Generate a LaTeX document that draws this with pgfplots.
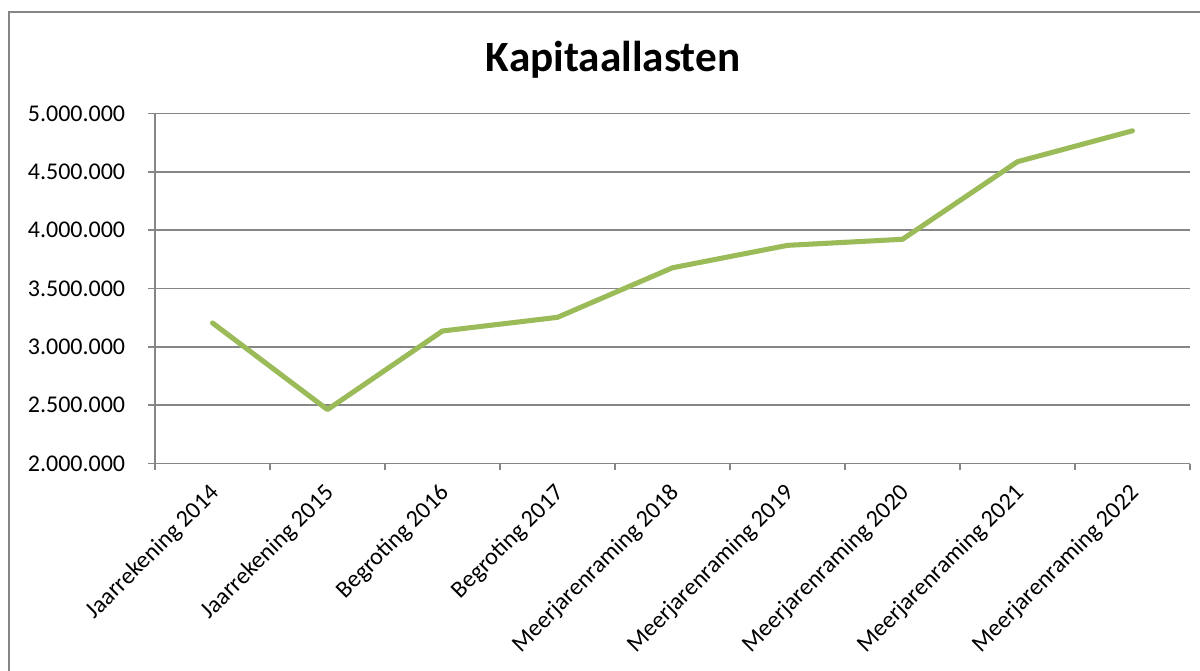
\documentclass[border=0pt]{standalone}
\usepackage{fontspec}
\setmainfont{Carlito}
\usepackage{pgfplots}
\pgfplotsset{compat=1.18}
\definecolor{linegreen}{HTML}{9BBB59}
\definecolor{gridgray}{HTML}{868686}
\begin{document}
\begin{tikzpicture}
\clip (0,0) rectangle (500pt,279.17pt);
\fill[white] (0,0) rectangle (500pt,279.17pt);
\draw[gridgray, line width=0.6pt] (3.75pt,-5pt) -- (3.75pt,274.17pt) -- (505pt,274.17pt);
\node[font=\fontsize{18}{22}\selectfont\bfseries, anchor=base] at (255.4pt,249.2pt) {Kapitaallasten};
\begin{axis}[
  at={(64.58pt,86.04pt)}, anchor=south west,
  scale only axis, width=431.25pt, height=145.83pt,
  xmin=-0.5, xmax=8.5, ymin=2000000, ymax=5000000,
  axis x line*=bottom, axis y line*=left,
  axis line style={gridgray, line width=0.6pt},
  tick align=outside,
  xtick={0,1,2,3,4,5,6,7,8},
  xticklabels={Jaarrekening 2014, Jaarrekening 2015, Begroting 2016, Begroting 2017, Meerjarenraming 2018, Meerjarenraming 2019, Meerjarenraming 2020, Meerjarenraming 2021, Meerjarenraming 2022},
  major x tick style={draw=none},
  minor xtick={-0.5,0.5,1.5,2.5,3.5,4.5,5.5,6.5,7.5,8.5},
  minor tick length=2.9pt,
  major tick length=2.9pt,
  every tick/.style={gridgray, line width=0.6pt},
  ytick={2000000,2500000,3000000,3500000,4000000,4500000,5000000},
  scaled y ticks=false,
  /pgf/number format/fixed,
  /pgf/number format/precision=0,
  /pgf/number format/1000 sep={.},
  /pgf/number format/assume math mode=true,
  yticklabel style={font=\fontsize{10}{12}\selectfont, xshift=-6pt},
  xticklabel style={font=\fontsize{10}{12}\selectfont, anchor=east, xshift=3.9pt, yshift=-5.6pt, rotate=45},
  ymajorgrids, major grid style={gridgray, line width=0.6pt},
  clip=false,
]
\addplot[linegreen, line width=2.1pt, line join=round, line cap=round, mark=none] coordinates {
  (0,3205000) (1,2462000) (2,3136000) (3,3253000) (4,3678000)
  (5,3870000) (6,3922000) (7,4587000) (8,4852000)
};
\end{axis}
\end{tikzpicture}
\end{document}
